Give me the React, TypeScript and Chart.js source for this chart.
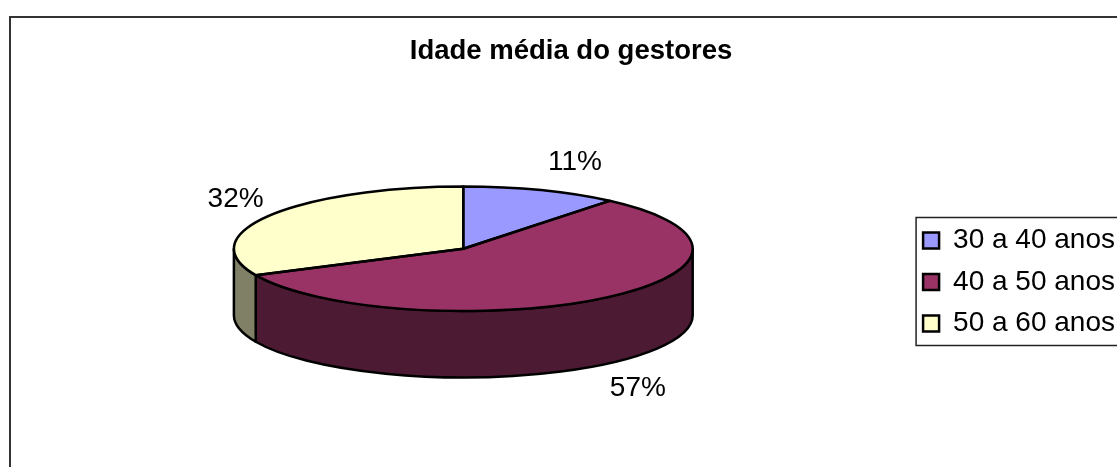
import { useEffect, useRef } from "react";
import { Chart, registerables } from "chart.js";

Chart.register(...registerables);

const chartTitle = "Idade média do gestores";
const categories = ["30 a 40 anos", "40 a 50 anos", "50 a 60 anos"];
const values = [11, 57, 32];
const topColors = ["#9999FF", "#993366", "#FFFFCC"];
const sideColors = ["#4C4C80", "#4D1A33", "#808066"];

const FONT = "'Liberation Sans', Arial, Helvetica, sans-serif";
const TILT = 0.271; // vertical squash of the pie top
const DEPTH = 0.29; // thickness relative to radius
const LABEL_DX = 34;
const LABEL_DY = 30;
const EDGE = 2.5;

function geometry(chart: any) {
  const meta = chart.getDatasetMeta(0);
  const arcs = meta && meta.data;
  if (!arcs || !arcs.length) return null;
  const a0 = arcs[0];
  const rx = a0.outerRadius;
  const ry = rx * TILT;
  const depth = rx * DEPTH;
  return { arcs, x: a0.x, y: a0.y, cx: a0.x, cy: a0.y - depth / 2, rx, ry, depth };
}

const pie3d = {
  id: "pie3d",
  beforeDraw(chart: any) {
    const ctx = chart.ctx;
    ctx.save();
    ctx.fillStyle = "#ffffff";
    ctx.fillRect(0, 0, chart.width, chart.height);
    ctx.strokeStyle = "#333333";
    ctx.lineWidth = 2;
    ctx.strokeRect(10, 17, chart.width + 40, chart.height + 40);
    ctx.restore();
  },
  beforeDatasetsDraw(chart: any) {
    const g = geometry(chart);
    const ctx = chart.ctx;
    if (!g) {
      ctx.save();
      return;
    }
    ctx.save();
    ctx.lineWidth = EDGE;
    ctx.strokeStyle = "#000";
    ctx.lineJoin = "round";
    g.arcs.forEach((arc: any, i: number) => {
      const s = Math.max(arc.startAngle, 0);
      const e = Math.min(arc.endAngle, Math.PI);
      if (e <= s) return;
      ctx.beginPath();
      ctx.ellipse(g.cx, g.cy, g.rx, g.ry, 0, s, e, false);
      ctx.ellipse(g.cx, g.cy + g.depth, g.rx, g.ry, 0, e, s, true);
      ctx.closePath();
      ctx.fillStyle = sideColors[i];
      ctx.fill();
      ctx.stroke();
    });
    ctx.restore();
    ctx.save();
    ctx.translate(g.cx, g.cy);
    ctx.scale(1, TILT);
    ctx.translate(-g.x, -g.y);
  },
  afterDatasetsDraw(chart: any) {
    const ctx = chart.ctx;
    ctx.restore();
    const g = geometry(chart);
    if (!g) return;
    ctx.save();
    ctx.lineWidth = EDGE;
    ctx.strokeStyle = "#000";
    ctx.lineJoin = "round";
    g.arcs.forEach((arc: any) => {
      ctx.beginPath();
      ctx.moveTo(g.cx, g.cy);
      ctx.ellipse(g.cx, g.cy, g.rx, g.ry, 0, arc.startAngle, arc.endAngle, false);
      ctx.closePath();
      ctx.stroke();
    });
    const total = values.reduce((a, b) => a + b, 0);
    ctx.fillStyle = "#000";
    ctx.font = `28px ${FONT}`;
    ctx.textAlign = "center";
    ctx.textBaseline = "middle";
    g.arcs.forEach((arc: any, i: number) => {
      const mid = (arc.startAngle + arc.endAngle) / 2;
      const c = Math.cos(mid);
      const sn = Math.sin(mid);
      const px = g.cx + g.rx * c;
      const py = g.cy + g.ry * sn + (sn > 0 ? g.depth : 0);
      const lx = px + Math.sign(c) * LABEL_DX;
      const ly = py + sn * LABEL_DY;
      ctx.fillText(Math.round((values[i] / total) * 100) + "%", lx, ly);
    });
    ctx.restore();
  },
  afterDraw(chart: any) {
    const lg = chart.legend;
    const hb = lg && lg.legendHitBoxes;
    if (!hb || !hb.length) return;
    const ctx = chart.ctx;
    const first = hb[0];
    const last = hb[hb.length - 1];
    const x = first.left - 7;
    const y = first.top - 9;
    const b = last.top + last.height + 8;
    ctx.save();
    ctx.strokeStyle = "#222";
    ctx.lineWidth = 1.5;
    ctx.strokeRect(x, y, chart.width, b - y);
    ctx.restore();
  },
};

export default function App() {
  const ref = useRef<HTMLCanvasElement | null>(null);
  useEffect(() => {
    document.body.style.margin = "0";
    if (!ref.current) return;
    const baseGen =
      ((Chart as any).overrides?.doughnut?.plugins?.legend?.labels?.generateLabels) ||
      ((Chart as any).overrides?.pie?.plugins?.legend?.labels?.generateLabels);
    const chart = new Chart(ref.current, {
      type: "pie",
      data: {
        labels: categories,
        datasets: [
          {
            data: values,
            backgroundColor: topColors,
            borderWidth: 0,
            radius: "124%",
            clip: false,
          } as any,
        ],
      },
      options: {
        responsive: false,
        animation: false,
        devicePixelRatio: 1,
        events: [],
        layout: { padding: { left: 17, right: -8, top: 0, bottom: 0 } },
        plugins: {
          tooltip: { enabled: false },
          title: {
            display: true,
            text: chartTitle,
            color: "#000",
            font: { family: FONT, size: 27.5, weight: "bold" },
            padding: { top: 35, bottom: 29 },
          },
          legend: {
            position: "right",
            fullSize: false,
            align: "center",
            labels: {
              color: "#000",
              font: { family: FONT, size: 28 },
              boxWidth: 16,
              boxHeight: 16,
              padding: 13.5,
              generateLabels: (c: any) =>
                baseGen(c).map((it: any) => ({ ...it, strokeStyle: "#000", lineWidth: 2.5 })),
            },
          },
        },
      } as any,
      plugins: [pie3d],
    });
    return () => chart.destroy();
  }, []);
  return (
    <div style={{ width: 1117, height: 467, overflow: "hidden" }}>
      <canvas ref={ref} width={1117} height={467} style={{ display: "block" }} />
    </div>
  );
}
